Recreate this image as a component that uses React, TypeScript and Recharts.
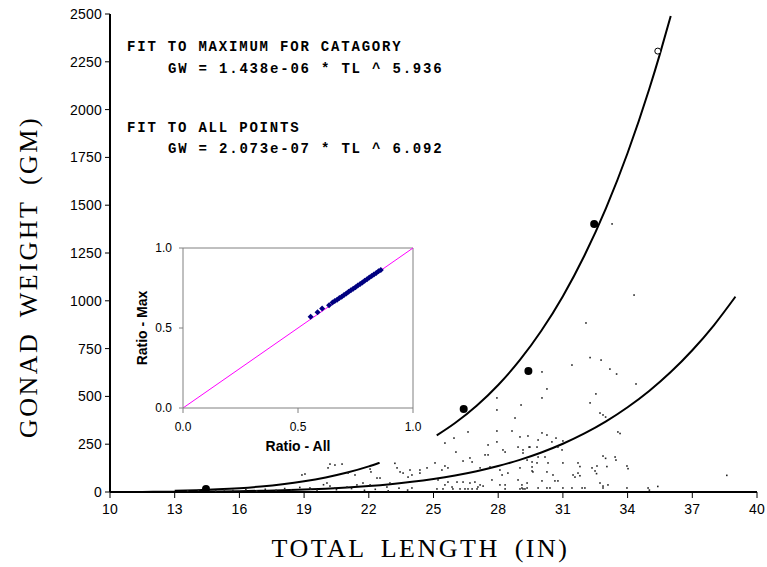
import {
  ComposedChart,
  ScatterChart,
  Scatter,
  Line,
  XAxis,
  YAxis,
  ReferenceLine,
  Label,
} from "recharts";

const xTicks = [10, 13, 16, 19, 22, 25, 28, 31, 34, 37, 40];
const yTicks = [0, 250, 500, 750, 1000, 1250, 1500, 1750, 2000, 2250, 2500];
const ratioTicks = [0, 0.5, 1];

// individual fish
const allPoints = [
  { x: 20.2, y: 146 }, { x: 20.43, y: 141 }, { x: 20.76, y: 146 }, { x: 20.11, y: 126 },
  { x: 19.04, y: 94 }, { x: 18.9, y: 89 }, { x: 21.04, y: 99 }, { x: 21.36, y: 89 },
  { x: 22.06, y: 120 }, { x: 22.1, y: 105 }, { x: 22.38, y: 73 }, { x: 22.52, y: 73 },
  { x: 23.21, y: 150 }, { x: 23.31, y: 126 }, { x: 23.45, y: 105 }, { x: 23.59, y: 99 },
  { x: 23.82, y: 78 }, { x: 20.06, y: 47 }, { x: 20.2, y: 31 }, { x: 20.43, y: 21 },
  { x: 20.99, y: 26 }, { x: 21.45, y: 37 }, { x: 21.73, y: 47 }, { x: 22.06, y: 37 },
  { x: 22.98, y: 47 }, { x: 22.84, y: 26 }, { x: 19.27, y: 21 }, { x: 19.6, y: 10 },
  { x: 29.06, y: 455 }, { x: 27.94, y: 492 }, { x: 27.94, y: 429 }, { x: 28.78, y: 387 },
  { x: 26.6, y: 314 }, { x: 27.94, y: 319 }, { x: 28.64, y: 319 }, { x: 29.01, y: 288 },
  { x: 25.53, y: 256 }, { x: 25.95, y: 282 }, { x: 27.53, y: 246 }, { x: 27.94, y: 262 },
  { x: 28.22, y: 220 }, { x: 28.32, y: 209 }, { x: 28.92, y: 235 }, { x: 29.15, y: 220 },
  { x: 29.47, y: 235 }, { x: 26.04, y: 209 }, { x: 27.39, y: 194 }, { x: 27.53, y: 194 },
  { x: 26.37, y: 162 }, { x: 26.69, y: 178 }, { x: 26.79, y: 157 }, { x: 25.07, y: 152 },
  { x: 25.53, y: 136 }, { x: 25.67, y: 126 }, { x: 25.39, y: 115 }, { x: 24.7, y: 126 },
  { x: 24.37, y: 115 }, { x: 23.91, y: 115 }, { x: 24.37, y: 99 }, { x: 24.0, y: 89 },
  { x: 27.16, y: 126 }, { x: 27.62, y: 131 }, { x: 28.08, y: 115 }, { x: 28.18, y: 89 },
  { x: 28.45, y: 99 }, { x: 29.01, y: 126 }, { x: 29.57, y: 131 }, { x: 29.61, y: 105 },
  { x: 25.21, y: 63 }, { x: 25.67, y: 52 }, { x: 26.09, y: 52 }, { x: 26.37, y: 52 },
  { x: 25.53, y: 37 }, { x: 25.86, y: 26 }, { x: 26.69, y: 47 }, { x: 26.92, y: 52 },
  { x: 27.16, y: 37 }, { x: 27.3, y: 31 }, { x: 27.71, y: 63 }, { x: 28.08, y: 37 },
  { x: 28.32, y: 37 }, { x: 28.92, y: 63 }, { x: 29.1, y: 37 }, { x: 29.34, y: 47 },
  { x: 25.16, y: 16 }, { x: 25.44, y: 16 }, { x: 25.9, y: 16 }, { x: 26.23, y: 16 },
  { x: 26.46, y: 16 }, { x: 26.6, y: 16 }, { x: 26.79, y: 16 }, { x: 27.02, y: 16 },
  { x: 27.06, y: 26 }, { x: 28.32, y: 16 }, { x: 29.01, y: 16 }, { x: 29.15, y: 16 },
  { x: 29.24, y: 16 }, { x: 24.0, y: 21 },
  { x: 32.72, y: 413 }, { x: 32.86, y: 403 }, { x: 33.55, y: 314 }, { x: 30.03, y: 309 },
  { x: 30.26, y: 298 }, { x: 29.38, y: 293 }, { x: 29.85, y: 272 }, { x: 30.49, y: 262 },
  { x: 30.68, y: 282 }, { x: 31.0, y: 267 }, { x: 29.43, y: 235 }, { x: 29.8, y: 235 },
  { x: 30.77, y: 235 }, { x: 30.96, y: 220 }, { x: 29.15, y: 204 }, { x: 29.85, y: 183 },
  { x: 30.17, y: 183 }, { x: 29.34, y: 167 }, { x: 29.57, y: 157 }, { x: 29.8, y: 152 },
  { x: 30.31, y: 152 }, { x: 31.0, y: 152 }, { x: 31.7, y: 152 }, { x: 32.86, y: 188 },
  { x: 33.42, y: 183 }, { x: 33.97, y: 136 }, { x: 32.58, y: 136 }, { x: 32.35, y: 126 },
  { x: 32.49, y: 110 }, { x: 31.47, y: 89 }, { x: 31.7, y: 99 }, { x: 29.57, y: 110 },
  { x: 30.26, y: 105 }, { x: 30.54, y: 89 }, { x: 30.03, y: 58 }, { x: 30.63, y: 58 },
  { x: 30.77, y: 58 }, { x: 32.72, y: 47 }, { x: 32.86, y: 31 }, { x: 33.09, y: 37 },
  { x: 29.1, y: 21 }, { x: 29.34, y: 21 }, { x: 29.85, y: 21 }, { x: 30.26, y: 21 },
  { x: 30.4, y: 21 }, { x: 31.0, y: 21 }, { x: 31.42, y: 21 }, { x: 31.89, y: 21 },
  { x: 32.02, y: 21 }, { x: 32.86, y: 21 }, { x: 33.97, y: 21 }, { x: 34.95, y: 21 },
  { x: 34.3, y: 1030 }, { x: 32.07, y: 884 }, { x: 32.26, y: 703 }, { x: 32.77, y: 690 },
  { x: 31.42, y: 664 }, { x: 33.18, y: 643 }, { x: 33.49, y: 617 }, { x: 30.03, y: 628 },
  { x: 30.26, y: 539 }, { x: 34.39, y: 565 }, { x: 30.03, y: 492 }, { x: 32.53, y: 513 },
  { x: 32.26, y: 466 }, { x: 32.98, y: 392 }, { x: 33.65, y: 306 }, { x: 38.6, y: 87 },
  { x: 35.4, y: 29 }, { x: 35.01, y: 10 }, { x: 34.02, y: 122 }, { x: 33.46, y: 167 },
  { x: 33.04, y: 133 }, { x: 32.98, y: 176 }, { x: 32.56, y: 96 }, { x: 31.79, y: 133 },
  { x: 31.79, y: 85 }, { x: 31.56, y: 78 }, { x: 33.28, y: 1402 },
  { x: 13.6, y: 6 }, { x: 14.1, y: 9 }, { x: 14.9, y: 5 }, { x: 15.3, y: 11 },
  { x: 15.7, y: 8 }, { x: 16.3, y: 12 }, { x: 16.8, y: 6 }, { x: 17.2, y: 14 },
  { x: 17.7, y: 9 }, { x: 18.1, y: 18 }, { x: 18.4, y: 11 }, { x: 18.8, y: 24 },
  { x: 19.3, y: 15 }, { x: 19.9, y: 38 }, { x: 20.5, y: 12 }, { x: 21.2, y: 18 },
  { x: 21.8, y: 9 }, { x: 22.3, y: 14 }, { x: 22.9, y: 6 }, { x: 23.4, y: 20 },
  { x: 23.8, y: 10 },
];

// heaviest fish per length category
const maxPoints = [
  { x: 14.45, y: 16 },
  { x: 26.4, y: 434 },
  { x: 29.4, y: 633 },
  { x: 32.45, y: 1402 },
];
const openPoints = [{ x: 35.4, y: 2306 }];

// fitted curves as drawn
const maxFitLow = [
  { x: 13, y: 5.9 }, { x: 14, y: 9.2 }, { x: 15, y: 13.8 }, { x: 16, y: 20.2 },
  { x: 17, y: 29 }, { x: 18, y: 40.7 }, { x: 19, y: 56 }, { x: 20, y: 76 },
  { x: 21, y: 101.5 }, { x: 22, y: 133.8 }, { x: 22.5, y: 152.9 },
];
const maxFitHigh = [
  { x: 25.15, y: 296 }, { x: 26, y: 360.7 }, { x: 27, y: 451.1 }, { x: 28, y: 559.9 },
  { x: 29, y: 689.5 }, { x: 30, y: 843.2 }, { x: 31, y: 1024.4 }, { x: 32, y: 1237 },
  { x: 33, y: 1485 }, { x: 34, y: 1772.9 }, { x: 35, y: 2106.1 }, { x: 35.5, y: 2291.3 },
  { x: 36, y: 2489.6 },
];
const allFit = [
  { x: 10, y: 0.26 }, { x: 11, y: 0.46 }, { x: 12, y: 0.78 }, { x: 13, y: 1.27 },
  { x: 14, y: 1.99 }, { x: 15, y: 3.03 }, { x: 16, y: 4.49 }, { x: 17, y: 6.49 },
  { x: 18, y: 9.2 }, { x: 19, y: 12.8 }, { x: 20, y: 17.5 }, { x: 21, y: 23.5 },
  { x: 22, y: 31.2 }, { x: 23, y: 40.9 }, { x: 24, y: 53.1 }, { x: 25, y: 68.1 },
  { x: 26, y: 86.4 }, { x: 27, y: 108.8 }, { x: 28, y: 135.7 }, { x: 29, y: 168.1 },
  { x: 30, y: 206.7 }, { x: 31, y: 252.3 }, { x: 32, y: 306.1 }, { x: 33, y: 369.2 },
  { x: 34, y: 443 }, { x: 35, y: 528.4 }, { x: 36, y: 627.4 }, { x: 37, y: 741.5 },
  { x: 38, y: 872.1 }, { x: 39, y: 1021.6 },
];

// inset: ratio of the two fits
const ratioAll = [0.555, 0.585, 0.605, 0.635, 0.65, 0.66, 0.67, 0.68, 0.69, 0.7, 0.71, 0.72, 0.73, 0.74, 0.75, 0.76, 0.77, 0.78, 0.79, 0.8, 0.81, 0.82, 0.83, 0.84, 0.85, 0.86];
const ratioMax = [0.57, 0.598, 0.622, 0.642, 0.66, 0.668, 0.677, 0.687, 0.696, 0.706, 0.716, 0.726, 0.736, 0.745, 0.755, 0.765, 0.775, 0.785, 0.795, 0.805, 0.815, 0.825, 0.834, 0.844, 0.854, 0.863];
const ratioData = ratioAll.map((v, i) => ({ all: v, max: ratioMax[i] }));

const titleFont = {
  fontFamily: "'Liberation Serif', 'Times New Roman', serif",
  fontSize: 26,
  letterSpacing: 2.5,
  wordSpacing: 6,
  fill: "#000",
};
const noteStyle: React.CSSProperties = {
  position: "absolute",
  fontFamily: "'Liberation Mono', 'DejaVu Sans Mono', monospace",
  fontWeight: "bold",
  fontSize: 14,
  lineHeight: "16px",
  letterSpacing: 1.8,
  whiteSpace: "pre",
  color: "#000",
};

const Speck = (p: any) => (
  <rect x={p.cx - 0.8} y={p.cy - 0.8} width={1.6} height={1.6} fill="#222" />
);
const BigDot = (p: any) => <circle cx={p.cx} cy={p.cy} r={4} fill="#000" />;
const OpenDot = (p: any) => (
  <circle cx={p.cx} cy={p.cy} r={3} fill="#fff" stroke="#000" strokeWidth={1} />
);
const Diamond = (p: any) => {
  const r = 3;
  return (
    <polygon
      points={`${p.cx},${p.cy - r} ${p.cx + r},${p.cy} ${p.cx},${p.cy + r} ${p.cx - r},${p.cy}`}
      fill="#000080"
    />
  );
};

export default function App() {
  const tick = {
    fontFamily: "'Liberation Sans', Arial, sans-serif",
    fontSize: 14,
    letterSpacing: 0.2,
    fill: "#000",
  };
  const insetTick = { fontFamily: "'Liberation Sans', Arial, sans-serif", fontSize: 12, fill: "#000" };
  const insetTitle = {
    fontFamily: "'Liberation Sans', Arial, sans-serif",
    fontSize: 14,
    fontWeight: "bold" as const,
    fill: "#000",
  };

  return (
    <div style={{ position: "absolute", left: 0, top: 0, width: 767, height: 567, background: "#fff" }}>
      <ComposedChart width={767} height={567} margin={{ top: 14, right: 10, bottom: 45, left: 50 }}>
        <XAxis
          type="number"
          dataKey="x"
          domain={[10, 40]}
          ticks={xTicks}
          height={30}
          tick={tick}
          tickSize={6}
          tickMargin={6}
          stroke="#000"
          axisLine={{ stroke: "#000", strokeWidth: 2 }}
          tickLine={{ stroke: "#000" }}
        >
          <Label
            content={(props: any) => {
              const vb = props.viewBox;
              return (
                <text x={vb.x + vb.width / 2 - 13} y={557} textAnchor="middle" {...titleFont}>
                  TOTAL LENGTH (IN)
                </text>
              );
            }}
          />
        </XAxis>
        <YAxis
          type="number"
          dataKey="y"
          domain={[0, 2500]}
          ticks={yTicks}
          width={60}
          tick={tick}
          tickSize={5}
          tickMargin={3}
          stroke="#000"
          axisLine={{ stroke: "#000", strokeWidth: 2 }}
          tickLine={{ stroke: "#000" }}
        >
          <Label
            content={(props: any) => {
              const vb = props.viewBox;
              const cx = vb.x - 13;
              const cy = vb.y + vb.height / 2 + 24;
              return (
                <text x={cx} y={cy} textAnchor="middle" transform={`rotate(-90 ${cx} ${cy})`} {...titleFont}>
                  GONAD WEIGHT (GM)
                </text>
              );
            }}
          />
        </YAxis>
        <Scatter data={allPoints} shape={Speck} isAnimationActive={false} />
        <Line data={allFit} dataKey="y" type="monotone" dot={false} stroke="#000" strokeWidth={2} isAnimationActive={false} />
        <Line data={maxFitLow} dataKey="y" type="monotone" dot={false} stroke="#000" strokeWidth={2} isAnimationActive={false} />
        <Line data={maxFitHigh} dataKey="y" type="monotone" dot={false} stroke="#000" strokeWidth={2} isAnimationActive={false} />
        <Scatter data={maxPoints} shape={BigDot} isAnimationActive={false} />
        <Scatter data={openPoints} shape={OpenDot} isAnimationActive={false} />
      </ComposedChart>

      <div style={{ ...noteStyle, left: 127, top: 39 }}>FIT TO MAXIMUM FOR CATAGORY</div>
      <div style={{ ...noteStyle, left: 168, top: 61 }}>GW = 1.438e-06 * TL ^ 5.936</div>
      <div style={{ ...noteStyle, left: 127, top: 120 }}>FIT TO ALL POINTS</div>
      <div style={{ ...noteStyle, left: 168, top: 141 }}>GW = 2.073e-07 * TL ^ 6.092</div>

      <div style={{ position: "absolute", left: 128, top: 232, width: 308, height: 230, background: "#fff" }}>
        <ScatterChart width={308} height={230} margin={{ top: 16, right: 23, bottom: 29, left: 25 }}>
          <XAxis
            type="number"
            dataKey="all"
            domain={[0, 1]}
            ticks={ratioTicks}
            tickFormatter={(v: number) => v.toFixed(1)}
            height={25}
            tick={insetTick}
            tickSize={5}
            tickMargin={9}
            axisLine={{ stroke: "#808080" }}
            tickLine={{ stroke: "#808080" }}
          >
            <Label
              content={(props: any) => {
                const vb = props.viewBox;
                return (
                  <text x={vb.x + vb.width / 2} y={vb.y + 43} textAnchor="middle" {...insetTitle}>
                    Ratio - All
                  </text>
                );
              }}
            />
          </XAxis>
          <YAxis
            type="number"
            dataKey="max"
            domain={[0, 1]}
            ticks={ratioTicks}
            tickFormatter={(v: number) => v.toFixed(1)}
            width={30}
            tick={insetTick}
            tickSize={4}
            tickMargin={7}
            axisLine={{ stroke: "#808080" }}
            tickLine={{ stroke: "#808080" }}
          >
            <Label
              content={(props: any) => {
                const vb = props.viewBox;
                const cx = vb.x - 6;
                const cy = vb.y + vb.height / 2;
                return (
                  <text x={cx} y={cy} textAnchor="middle" transform={`rotate(-90 ${cx} ${cy})`} {...insetTitle}>
                    Ratio - Max
                  </text>
                );
              }}
            />
          </YAxis>
          <ReferenceLine y={1} stroke="#808080" />
          <ReferenceLine x={1} stroke="#808080" />
          <ReferenceLine segment={[{ x: 0, y: 0 }, { x: 1, y: 1 }]} stroke="#ff00ff" strokeWidth={1} />
          <Scatter data={ratioData} shape={Diamond} isAnimationActive={false} />
        </ScatterChart>
      </div>
    </div>
  );
}
